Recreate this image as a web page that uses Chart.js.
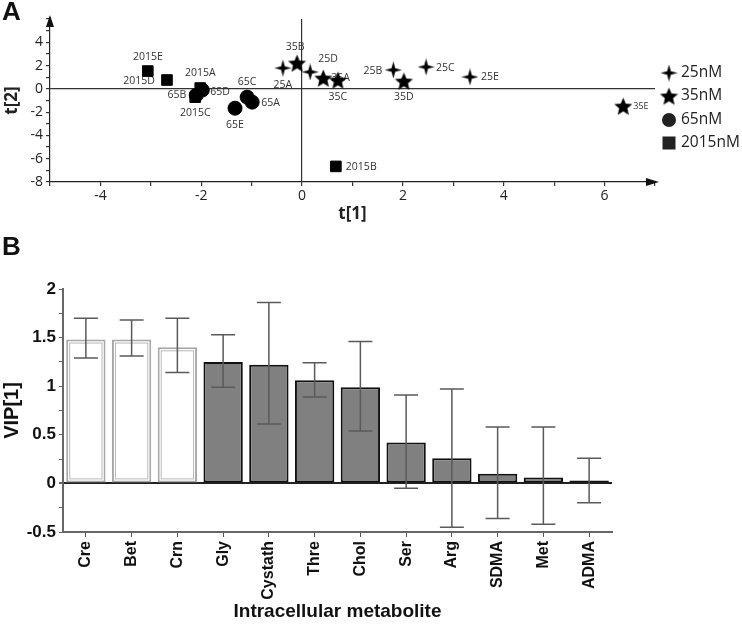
<!DOCTYPE html>
<html>
<head>
<meta charset="utf-8">
<script src="https://cdn.jsdelivr.net/npm/chart.js@4.4.1/dist/chart.umd.min.js"></script>
<style>
  body { margin: 0; background: #fff; }
  #wrap { position: relative; width: 742px; height: 625px; }
  #chartA { position: absolute; left: 0; top: 0; }
  #chartB { position: absolute; left: 0; top: 232px; }
</style>
</head>
<body>
<div id="wrap">
  <canvas id="chartA" width="742" height="232"></canvas>
  <canvas id="chartB" width="742" height="393"></canvas>
</div>
<script>
// ---- Panel A: score plot t[1] vs t[2] ----
const names25 = ['25A', '25B', '25C', '25D', '25E'];
const t1_25 = [-0.38, 1.81, 2.46, 0.16, 3.33];
const t2_25 = [1.79, 1.62, 1.88, 1.45, 1.02];

const names35 = ['35A', '35B', '35C', '35D', '35E'];
const t1_35 = [0.42, -0.10, 0.71, 2.02, 6.37];
const t2_35 = [0.93, 2.22, 0.76, 0.67, -1.48];

const names65 = ['65A', '65B', '65C', '65D', '65E'];
const t1_65 = [-0.99, -2.10, -1.09, -1.98, -1.33];
const t2_65 = [-1.14, -0.55, -0.71, -0.10, -1.66];

const names2015 = ['2015A', '2015B', '2015C', '2015D', '2015E'];
const t1_2015 = [-2.02, 0.67, -2.12, -2.68, -3.06];
const t2_2015 = [0.07, -6.66, -0.71, 0.76, 1.53];

const groupLabels = ['25nM', '35nM', '65nM', '2015nM'];

// ---- Panel B: VIP[1] per metabolite ----
const metabolites = ['Cre', 'Bet', 'Crn', 'Gly', 'Cystath', 'Thre', 'Chol', 'Ser', 'Arg', 'SDMA', 'Met', 'ADMA'];
const vip = [1.48, 1.48, 1.40, 1.25, 1.22, 1.06, 0.99, 0.42, 0.26, 0.10, 0.06, 0.03];
const vipHigh = [1.70, 1.68, 1.70, 1.53, 1.86, 1.24, 1.46, 0.91, 0.97, 0.58, 0.58, 0.26];
const vipLow = [1.29, 1.31, 1.14, 0.99, 0.61, 0.89, 0.54, -0.05, -0.45, -0.36, -0.42, -0.20];
const hollowCount = 3;

const fontA = "'Open Sans', 'Noto Sans', sans-serif";
const fontB = "'Liberation Sans', Arial, sans-serif";

function toPoints(xs, ys, names) {
    return xs.map((x, i) => ({ x: x, y: ys[i], name: names[i] }));
}

// marker images
function sparkle(size) {
    const c = document.createElement('canvas');
    c.width = size; c.height = size;
    const g = c.getContext('2d');
    const m = size / 2, k = m * 0.22;
    g.fillStyle = '#000';
    g.beginPath();
    g.moveTo(m, 0);
    g.lineTo(m + k, m - k);
    g.lineTo(size, m);
    g.lineTo(m + k, m + k);
    g.lineTo(m, size);
    g.lineTo(m - k, m + k);
    g.lineTo(0, m);
    g.lineTo(m - k, m - k);
    g.closePath();
    g.fill();
    return c;
}

function star(size) {
    const c = document.createElement('canvas');
    c.width = size; c.height = size;
    const g = c.getContext('2d');
    const R = size / 2, r = R * 0.45, cx = size / 2, cy = size / 2 + 1;
    g.fillStyle = '#000';
    g.beginPath();
    for (let i = 0; i < 10; i++) {
        const a = -Math.PI / 2 + i * Math.PI / 5;
        const rad = i % 2 === 0 ? R : r;
        g.lineTo(cx + rad * Math.cos(a), cy + rad * Math.sin(a));
    }
    g.closePath();
    g.fill();
    return c;
}

const sparkleImg = sparkle(17);
const starImg = star(19);

// label placement relative to each point: [dx, dy, align]
const labelPos = {
    '25A': [0, 17, 'center'], '25B': [-11, 1, 'right'], '25C': [10, 1, 'left'],
    '25D': [18, -13, 'center'], '25E': [11, 0, 'left'],
    '35A': [8, 0, 'left'], '35B': [-2, -16, 'center'], '35C': [0, 17, 'center'],
    '35D': [0, 16, 'center'], '35E': [10, 0, 'left'],
    '65A': [9, 1, 'left'], '65B': [-10, 0, 'right'], '65C': [0, -15, 'center'],
    '65D': [8, 2, 'left'], '65E': [0, 17, 'center'],
    '2015A': [0, -15, 'center'], '2015B': [10, 1, 'left'], '2015C': [0, 16, 'center'],
    '2015D': [-12, 1, 'right'], '2015E': [0, -14, 'center']
};

const pointLabelsPlugin = {
    id: 'pointLabels',
    beforeDatasetsDraw(chart) {
        const ctx = chart.ctx;
        ctx.save();
        ctx.fillStyle = '#333';
        ctx.textBaseline = 'middle';
        chart.data.datasets.forEach((ds, di) => {
            const meta = chart.getDatasetMeta(di);
            meta.data.forEach((el, i) => {
                const name = ds.data[i].name;
                const p = labelPos[name] || [8, 0, 'left'];
                ctx.font = (name === '35E' ? '9px ' : '10.5px ') + fontA;
                ctx.textAlign = p[2];
                ctx.fillText(name, el.x + p[0], el.y + p[1]);
            });
        });
        ctx.restore();
    }
};

const axesDecorA = {
    id: 'axesDecorA',
    afterDraw(chart) {
        const ctx = chart.ctx;
        const a = chart.chartArea;
        ctx.save();
        ctx.fillStyle = '#111';
        // arrow on the y axis
        ctx.beginPath();
        ctx.moveTo(a.left, a.top - 4);
        ctx.lineTo(a.left - 4, a.top + 8);
        ctx.lineTo(a.left + 4, a.top + 8);
        ctx.closePath();
        ctx.fill();
        // arrow on the x axis
        ctx.beginPath();
        ctx.moveTo(a.right + 4, a.bottom);
        ctx.lineTo(a.right - 9, a.bottom - 4);
        ctx.lineTo(a.right - 9, a.bottom + 4);
        ctx.closePath();
        ctx.fill();
        // panel letter
        ctx.font = 'bold 26px ' + fontB;
        ctx.textBaseline = 'top';
        ctx.textAlign = 'left';
        ctx.fillText('A', 2, 0);
        // legend
        const ys = [73, 96, 120, 143];
        ctx.font = '15.5px ' + fontA;
        ctx.textBaseline = 'middle';
        ctx.fillStyle = '#222';
        groupLabels.forEach((lab, i) => {
            const cx = 669, cy = ys[i];
            if (i === 0) ctx.drawImage(sparkleImg, cx - 8.5, cy - 8.5);
            if (i === 1) ctx.drawImage(starImg, cx - 9.5, cy - 9.5);
            if (i === 2) { ctx.beginPath(); ctx.arc(cx, cy, 7, 0, Math.PI * 2); ctx.fill(); }
            if (i === 3) ctx.fillRect(cx - 6.5, cy - 6.5, 13, 13);
            ctx.fillText(lab, 681, cy);
        });
        ctx.restore();
    }
};

const zeroGrid = (ctx) => (ctx.tick && ctx.tick.value === 0) ? '#333' : 'rgba(0,0,0,0)';

new Chart(document.getElementById('chartA'), {
    type: 'scatter',
    data: {
        datasets: [
            { label: groupLabels[0], data: toPoints(t1_25, t2_25, names25), pointStyle: sparkleImg },
            { label: groupLabels[1], data: toPoints(t1_35, t2_35, names35), pointStyle: starImg },
            { label: groupLabels[2], data: toPoints(t1_65, t2_65, names65), pointStyle: 'circle', pointRadius: 7, backgroundColor: '#000', borderColor: '#000' },
            { label: groupLabels[3], data: toPoints(t1_2015, t2_2015, names2015), pointStyle: 'rect', pointRadius: 7.5, backgroundColor: '#000', borderColor: '#000' }
        ]
    },
    options: {
        responsive: false,
        animation: false,
        layout: { padding: { left: 0, right: 87, top: 19, bottom: 0 } },
        plugins: { legend: { display: false }, tooltip: { enabled: false } },
        scales: {
            x: {
                type: 'linear', min: -5, max: 7,
                afterFit: (s) => { s.height = 50; },
                ticks: {
                    stepSize: 1, autoSkip: false, maxRotation: 0, padding: 2,
                    color: '#222', font: { family: fontA, size: 14 },
                    callback: (v) => (v % 2 === 0 && v < 7 && v > -5) ? String(v) : ''
                },
                grid: { color: zeroGrid, tickColor: '#333', tickLength: 4, lineWidth: 1.2 },
                border: { color: '#222', width: 1.2 },
                title: { display: true, text: 't[1]', color: '#222', font: { family: fontA, size: 17, weight: 'bold' }, padding: { top: 0, bottom: 8 } }
            },
            y: {
                min: -8, max: 6,
                afterFit: (s) => { s.width = 50; },
                ticks: {
                    stepSize: 1, autoSkip: false, padding: 3,
                    color: '#222', font: { family: fontA, size: 14 },
                    callback: (v) => (v % 2 === 0 && v < 6) ? String(v) : ''
                },
                grid: { color: zeroGrid, tickColor: '#333', tickLength: 4, lineWidth: 1.2 },
                border: { color: '#222', width: 1.2 },
                title: { display: true, text: 't[2]', color: '#222', font: { family: fontA, size: 17, weight: 'bold' }, padding: { top: 2, bottom: 0 } }
            }
        }
    },
    plugins: [pointLabelsPlugin, axesDecorA]
});

// ---- Panel B ----
const errorBarsPlugin = {
    id: 'errorBars',
    afterDatasetsDraw(chart) {
        const ctx = chart.ctx;
        const meta = chart.getDatasetMeta(0);
        const y = chart.scales.y;
        ctx.save();
        // inner outline of the hollow bars
        ctx.strokeStyle = '#b8b8b8';
        ctx.lineWidth = 1;
        meta.data.forEach((bar, i) => {
            if (i >= hollowCount) return;
            const l = bar.x - bar.width / 2 + 3.5, r = bar.x + bar.width / 2 - 3.5;
            const t = Math.min(bar.y, bar.base) + 3.5, b = Math.max(bar.y, bar.base) - 3.5;
            ctx.strokeRect(l, t, r - l, b - t);
        });
        ctx.strokeStyle = '#5a5a5a';
        ctx.lineWidth = 1.5;
        meta.data.forEach((bar, i) => {
            const yh = y.getPixelForValue(vipHigh[i]);
            const yl = y.getPixelForValue(vipLow[i]);
            const w = 12;
            ctx.beginPath();
            ctx.moveTo(bar.x, yh); ctx.lineTo(bar.x, yl);
            ctx.moveTo(bar.x - w, yh); ctx.lineTo(bar.x + w, yh);
            ctx.moveTo(bar.x - w, yl); ctx.lineTo(bar.x + w, yl);
            ctx.stroke();
        });
        ctx.fillStyle = '#111';
        ctx.font = 'bold 26px ' + fontB;
        ctx.textBaseline = 'top';
        ctx.fillText('B', 2, 3);
        ctx.restore();
    }
};

new Chart(document.getElementById('chartB'), {
    type: 'bar',
    data: {
        labels: metabolites,
        datasets: [{
            label: 'VIP[1]',
            data: vip,
            backgroundColor: vip.map((v, i) => i < hollowCount ? '#ffffff' : '#808080'),
            borderColor: vip.map((v, i) => i < hollowCount ? '#a8a8a8' : '#111111'),
            borderWidth: 2,
            borderSkipped: false,
            categoryPercentage: 1,
            barPercentage: 0.86
        }]
    },
    options: {
        responsive: false,
        animation: false,
        layout: { padding: { left: 0, right: 130, top: 57, bottom: 0 } },
        plugins: { legend: { display: false }, tooltip: { enabled: false } },
        scales: {
            x: {
                afterFit: (s) => { s.height = 93; },
                ticks: {
                    autoSkip: false, maxRotation: 90, minRotation: 90, padding: 4,
                    color: '#111', font: { family: fontB, size: 16, weight: 'bold' }
                },
                grid: { offset: false, drawOnChartArea: false, tickColor: '#555', tickLength: 5 },
                border: { color: '#666', width: 2 },
                title: { display: true, text: 'Intracellular metabolite', color: '#111', font: { family: fontB, size: 19, weight: 'bold' }, padding: { top: 0, bottom: 2 } }
            },
            y: {
                min: -0.5, max: 2,
                afterFit: (s) => { s.width = 63; },
                ticks: {
                    stepSize: 0.25, autoSkip: false, padding: 3,
                    color: '#111', font: { family: fontB, size: 17, weight: 'bold' },
                    callback: (v) => (Math.abs(v * 2 - Math.round(v * 2)) < 1e-9) ? String(v) : ''
                },
                grid: {
                    color: (ctx) => (ctx.tick && ctx.tick.value === 0) ? '#222' : 'rgba(0,0,0,0)',
                    lineWidth: (ctx) => (ctx.tick && ctx.tick.value === 0) ? 2 : 1,
                    tickColor: '#666', tickLength: 4
                },
                border: { color: '#666', width: 2 },
                title: { display: true, text: 'VIP[1]', color: '#111', font: { family: fontB, size: 20, weight: 'bold' }, padding: { top: 0, bottom: 0 } }
            }
        }
    },
    plugins: [errorBarsPlugin]
});
</script>
</body>
</html>
